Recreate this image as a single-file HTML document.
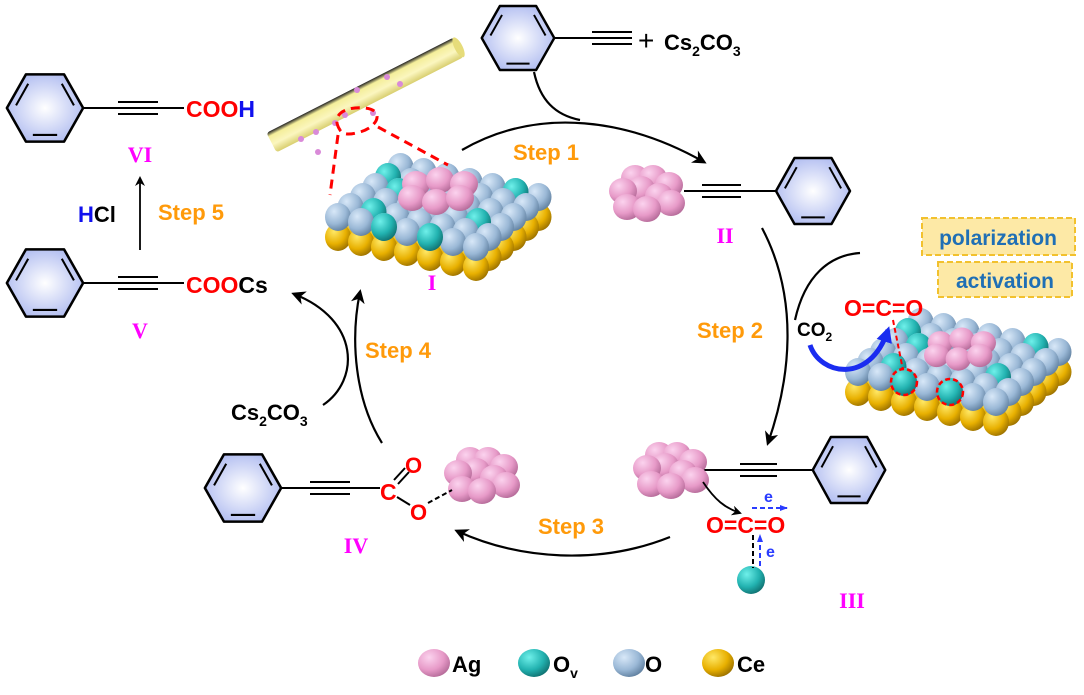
<!DOCTYPE html>
<html><head><meta charset="utf-8">
<style>
html,body{margin:0;padding:0;background:#fff;}
svg{display:block;font-family:"Liberation Sans",Arial,sans-serif;font-weight:bold;}
</style></head>
<body>
<svg width="1084" height="695" viewBox="0 0 1084 695" xmlns="http://www.w3.org/2000/svg" xmlns:xlink="http://www.w3.org/1999/xlink">
<defs>
<radialGradient id="gAg" cx="0.35" cy="0.3" r="0.75"><stop offset="0" stop-color="#fbd3ee"/><stop offset="0.6" stop-color="#e79ac8"/><stop offset="1" stop-color="#b46a98"/></radialGradient>
<radialGradient id="gOv" cx="0.35" cy="0.3" r="0.75"><stop offset="0" stop-color="#6ff0ea"/><stop offset="0.6" stop-color="#22b2b0"/><stop offset="1" stop-color="#107070"/></radialGradient>
<radialGradient id="gO" cx="0.35" cy="0.3" r="0.75"><stop offset="0" stop-color="#d8e8f8"/><stop offset="0.6" stop-color="#9ab8d6"/><stop offset="1" stop-color="#5f7f9f"/></radialGradient>
<radialGradient id="gCe" cx="0.35" cy="0.3" r="0.75"><stop offset="0" stop-color="#ffe866"/><stop offset="0.6" stop-color="#e8b000"/><stop offset="1" stop-color="#9a7000"/></radialGradient>
<radialGradient id="gRing" cx="0.5" cy="0.5" r="0.6"><stop offset="0" stop-color="#ffffff"/><stop offset="1" stop-color="#a9b6ef"/></radialGradient>
<linearGradient id="gCyl" x1="0" y1="0" x2="0" y2="1"><stop offset="0" stop-color="#222"/><stop offset="0.2" stop-color="#f4ee9a"/><stop offset="0.6" stop-color="#fbf6bf"/><stop offset="1" stop-color="#d9cf70"/></linearGradient>
<marker id="ar" markerWidth="10" markerHeight="10" refX="8" refY="5" orient="auto" markerUnits="userSpaceOnUse"><path d="M0,0 L10,5 L0,10 L3,5 z" fill="#000"/></marker>
<marker id="arB" markerWidth="8" markerHeight="8" refX="7" refY="4" orient="auto" markerUnits="userSpaceOnUse"><path d="M0,1 L8,4 L0,7 z" fill="#2a3cff"/></marker>
<marker id="arBig" markerWidth="14" markerHeight="14" refX="11" refY="7" orient="auto" markerUnits="userSpaceOnUse"><path d="M0,0 L14,7 L0,14 L4,7 z" fill="#000"/></marker>
<marker id="arBlue" markerWidth="16" markerHeight="16" refX="12" refY="8" orient="auto" markerUnits="userSpaceOnUse"><path d="M0,0 L16,8 L0,16 z" fill="#1a2cf0"/></marker>
<g id="ring">
<polygon points="-37,0 -18.5,-33 18.5,-33 37,0 18.5,33 -18.5,33" fill="url(#gRing)" stroke="#000" stroke-width="2.5" stroke-linejoin="round"/>
<g stroke="#000" stroke-width="2"><line x1="-28.1" y1="-2.6" x2="-16.3" y2="-23.8"/><line x1="16.3" y1="-23.8" x2="28.1" y2="-2.6"/><line x1="11.8" y1="26.4" x2="-11.8" y2="26.4"/></g>
</g>
<ellipse id="bAg" rx="14" ry="13" fill="url(#gAg)"/>
<ellipse id="bO" rx="13" ry="14" fill="url(#gO)"/>
<ellipse id="bOv" rx="13" ry="14" fill="url(#gOv)"/>
<ellipse id="bCe" rx="13" ry="14" fill="url(#gCe)"/>
<g id="ag">
<use xlink:href="#bAg" x="-10" y="-15"/><use xlink:href="#bAg" x="8" y="-15"/><use xlink:href="#bAg" x="24" y="-8"/>
<use xlink:href="#bAg" x="-4" y="-4"/><use xlink:href="#bAg" x="-22" y="-2"/><use xlink:href="#bAg" x="14" y="3"/>
<use xlink:href="#bAg" x="26" y="10"/><use xlink:href="#bAg" x="-18" y="14"/><use xlink:href="#bAg" x="2" y="16"/>
</g>
<g id="agTop">
<use xlink:href="#bAg" x="-22" y="-8"/><use xlink:href="#bAg" x="2" y="-12"/><use xlink:href="#bAg" x="26" y="-8"/>
<use xlink:href="#bAg" x="-26" y="6"/><use xlink:href="#bAg" x="-2" y="10"/><use xlink:href="#bAg" x="22" y="6"/>
</g>
<g id="rowCe">
<use xlink:href="#bCe" x="0" y="20"/><use xlink:href="#bCe" x="23" y="25"/><use xlink:href="#bCe" x="46" y="30"/><use xlink:href="#bCe" x="69" y="35"/><use xlink:href="#bCe" x="92" y="40"/><use xlink:href="#bCe" x="115" y="45"/><use xlink:href="#bCe" x="138" y="50"/>
</g>
<g id="rowO">
<use xlink:href="#bO" x="0" y="0"/><use xlink:href="#bO" x="23" y="5"/><use xlink:href="#bO" x="46" y="10"/><use xlink:href="#bO" x="69" y="15"/><use xlink:href="#bO" x="92" y="20"/><use xlink:href="#bO" x="115" y="25"/><use xlink:href="#bO" x="138" y="30"/>
</g>
<g id="slab">
<use xlink:href="#rowCe" x="62.5" y="-50"/><use xlink:href="#rowCe" x="50" y="-40"/><use xlink:href="#rowCe" x="37.5" y="-30"/><use xlink:href="#rowCe" x="25" y="-20"/><use xlink:href="#rowCe" x="12.5" y="-10"/><use xlink:href="#rowCe" x="0" y="0"/>
<use xlink:href="#rowO" x="62.5" y="-50"/><use xlink:href="#bOv" x="177.5" y="-25"/>
<use xlink:href="#rowO" x="50" y="-40"/><use xlink:href="#bOv" x="50" y="-40"/>
<use xlink:href="#rowO" x="37.5" y="-30"/><use xlink:href="#bOv" x="60.5" y="-25"/>
<use xlink:href="#rowO" x="25" y="-20"/><use xlink:href="#bOv" x="140" y="5"/>
<use xlink:href="#rowO" x="12.5" y="-10"/><use xlink:href="#bOv" x="35.5" y="-5"/>
<use xlink:href="#rowO" x="0" y="0"/><use xlink:href="#bOv" x="46" y="10"/><use xlink:href="#bOv" x="92" y="20"/>
</g>
</defs>

<!-- slabs -->
<use xlink:href="#slab" x="338" y="217"/>
<use xlink:href="#agTop" transform="translate(438,192)"/>
<use xlink:href="#slab" x="858" y="372"/>
<use xlink:href="#agTop" transform="translate(960,350) scale(0.9)"/>

<!-- cylinder -->
<g transform="translate(365,95) rotate(-27)">
<rect x="-105" y="-11" width="210" height="22" rx="3" fill="url(#gCyl)"/>
<ellipse cx="105" cy="0" rx="4" ry="11" fill="#e6dc7a"/>
</g>
<g fill="#d98ad8">
<circle cx="316" cy="132" r="3"/><circle cx="301" cy="139" r="3"/><circle cx="345" cy="115" r="3"/><circle cx="373" cy="113" r="3"/><circle cx="357" cy="90" r="3"/><circle cx="387" cy="77" r="3"/><circle cx="400" cy="84" r="3"/><circle cx="318" cy="152" r="3"/><circle cx="335" cy="123" r="3"/>
</g>
<g fill="none" stroke="#f00" stroke-width="3" stroke-dasharray="9,6">
<path d="M340,130 C330,115 345,106 365,108 C385,110 378,127 360,132 C350,135 343,135 340,130"/>
<line x1="338" y1="135" x2="330" y2="195"/>
<line x1="378" y1="127" x2="448" y2="165"/>
</g>

<!-- molecules -->
<g stroke="#000" stroke-width="2">
<line x1="554" y1="38" x2="632" y2="38"/><line x1="592" y1="32" x2="632" y2="32"/><line x1="592" y1="44" x2="632" y2="44"/>
<line x1="83" y1="108" x2="184" y2="108"/><line x1="118" y1="102" x2="158" y2="102"/><line x1="118" y1="114" x2="158" y2="114"/>
<line x1="83" y1="283" x2="184" y2="283"/><line x1="118" y1="277" x2="158" y2="277"/><line x1="118" y1="289" x2="158" y2="289"/>
<line x1="281" y1="488" x2="380" y2="488"/><line x1="310" y1="482" x2="350" y2="482"/><line x1="310" y1="494" x2="350" y2="494"/>
<line x1="684" y1="191" x2="777" y2="191"/><line x1="702" y1="185" x2="741" y2="185"/><line x1="702" y1="197" x2="741" y2="197"/>
<line x1="703" y1="470" x2="813" y2="470"/><line x1="740" y1="464" x2="777" y2="464"/><line x1="740" y1="476" x2="777" y2="476"/>
</g>
<use xlink:href="#ring" transform="translate(518,38) scale(0.98,0.97)"/>
<use xlink:href="#ring" transform="translate(45,108) scale(1.03,1.02)"/>
<use xlink:href="#ring" transform="translate(45,283) scale(1.03,1.02)"/>
<use xlink:href="#ring" transform="translate(243,488) scale(1.03,1.02)"/>
<use xlink:href="#ring" transform="translate(813,191)"/>
<use xlink:href="#ring" transform="translate(849,470) scale(0.98,1)"/>
<use xlink:href="#ag" x="645" y="193"/>
<use xlink:href="#ag" x="669" y="470"/>
<use xlink:href="#ag" x="480" y="475"/>
<circle cx="751" cy="580" r="14" fill="url(#gOv)"/>

<!-- arrows / arcs -->
<g fill="none" stroke="#000" stroke-width="2.2">
<path d="M462,150 C540,105 630,120 704,162" marker-end="url(#arBig)"/>
<path d="M534,72 C540,100 555,115 580,120"/>
<path d="M762,228 C800,300 790,380 768,443" marker-end="url(#arBig)"/>
<path d="M860,253 C830,255 805,275 795,320"/>
<path d="M670,537 C600,565 520,560 457,531" marker-end="url(#arBig)"/>
<path d="M382,443 C355,400 350,340 360,292" marker-end="url(#arBig)"/>
<path d="M323,405 C360,380 360,320 294,294" marker-end="url(#arBig)"/>
<path d="M140,250 L140,178" stroke-width="1.8" marker-end="url(#ar)"/>
<path d="M703,482 C715,500 725,508 740,513" stroke-width="1.8" marker-end="url(#ar)"/>
</g>
<path d="M810,345 C820,375 870,385 888,330" fill="none" stroke="#1a2cf0" stroke-width="5" marker-end="url(#arBlue)"/>

<g stroke-dasharray="5,3" fill="none" stroke-width="2">
<line x1="753" y1="535" x2="753" y2="568" stroke="#000"/>
<line x1="760" y1="566" x2="760" y2="535" stroke="#2a3cff" marker-end="url(#arB)"/>
<line x1="752" y1="508" x2="787" y2="508" stroke="#2a3cff" marker-end="url(#arB)"/>
<line x1="893" y1="320" x2="903" y2="370" stroke="#f00"/>
<line x1="428" y1="503" x2="452" y2="490" stroke="#000"/>
</g>
<g fill="none" stroke="#f00" stroke-width="2.5" stroke-dasharray="5,3">
<circle cx="904" cy="382" r="13"/><circle cx="950" cy="392" r="13"/>
</g>
<g stroke="#000" stroke-width="2">
<line x1="394" y1="480" x2="405" y2="468"/><line x1="398" y1="484" x2="409" y2="472"/>
<line x1="397" y1="497" x2="410" y2="505"/>
</g>

<!-- boxes -->
<rect x="922" y="218" width="153" height="37" fill="#fde9a6" stroke="#f2c12e" stroke-width="2" stroke-dasharray="6,3"/>
<rect x="938" y="262" width="134" height="35" fill="#fde9a6" stroke="#f2c12e" stroke-width="2" stroke-dasharray="6,3"/>
<text x="998" y="245" font-size="21" fill="#1f6fb5" text-anchor="middle">polarization</text>
<text x="1005" y="288" font-size="21" fill="#1f6fb5" text-anchor="middle">activation</text>

<!-- legend balls -->
<ellipse cx="434" cy="663" rx="16" ry="14" fill="url(#gAg)"/>
<ellipse cx="534" cy="663" rx="16" ry="14" fill="url(#gOv)"/>
<ellipse cx="629" cy="663" rx="16" ry="14" fill="url(#gO)"/>
<ellipse cx="718" cy="663" rx="16" ry="14" fill="url(#gCe)"/>

<g font-size="22">
<text x="638" y="50" font-size="28" font-weight="normal">+</text>
<text x="664" y="50" fill="#000">Cs<tspan font-size="14" dy="6">2</tspan><tspan dy="-6">CO</tspan><tspan font-size="14" dy="6">3</tspan></text>
<text x="186" y="117" fill="#f00" font-size="23">COO<tspan fill="#1010ee">H</tspan></text>
<text x="186" y="293" fill="#f00" font-size="23">COO<tspan fill="#000">Cs</tspan></text>
<text x="78" y="222" fill="#1010ee">H<tspan fill="#000">Cl</tspan></text>
<text x="231" y="420">Cs<tspan font-size="14" dy="6">2</tspan><tspan dy="-6">CO</tspan><tspan font-size="14" dy="6">3</tspan></text>
<text x="797" y="336" font-size="19">CO<tspan font-size="12" dy="5">2</tspan></text>
<text x="158" y="220" fill="#ff9a0a">Step 5</text>
<text x="513" y="160" fill="#ff9a0a">Step 1</text>
<text x="697" y="338" fill="#ff9a0a">Step 2</text>
<text x="538" y="534" fill="#ff9a0a">Step 3</text>
<text x="365" y="358" fill="#ff9a0a">Step 4</text>
<text x="140" y="162" fill="#ff00ff" text-anchor="middle" font-family="Liberation Serif,serif">VI</text>
<text x="140" y="338" fill="#ff00ff" text-anchor="middle" font-family="Liberation Serif,serif">V</text>
<text x="432" y="290" fill="#ff00ff" text-anchor="middle" font-family="Liberation Serif,serif">I</text>
<text x="725" y="243" fill="#ff00ff" text-anchor="middle" font-family="Liberation Serif,serif">II</text>
<text x="852" y="608" fill="#ff00ff" text-anchor="middle" font-family="Liberation Serif,serif">III</text>
<text x="356" y="553" fill="#ff00ff" text-anchor="middle" font-family="Liberation Serif,serif">IV</text>
<text x="706" y="533" fill="#f00" font-size="23">O=C=O</text>
<text x="844" y="316" fill="#f00" font-size="23">O=C=O</text>
<text x="380" y="500" fill="#f00" font-size="23">C</text>
<text x="405" y="473" fill="#f00" font-size="22">O</text>
<text x="410" y="520" fill="#f00" font-size="22">O</text>
<text x="764" y="502" fill="#2a3cff" font-size="16">e</text>
<text x="766" y="557" fill="#2a3cff" font-size="16">e</text>
<text x="452" y="672">Ag</text>
<text x="553" y="672">O<tspan font-size="14" dy="6">v</tspan></text>
<text x="645" y="672">O</text>
<text x="737" y="672">Ce</text>
</g>
</svg>
</body></html>
